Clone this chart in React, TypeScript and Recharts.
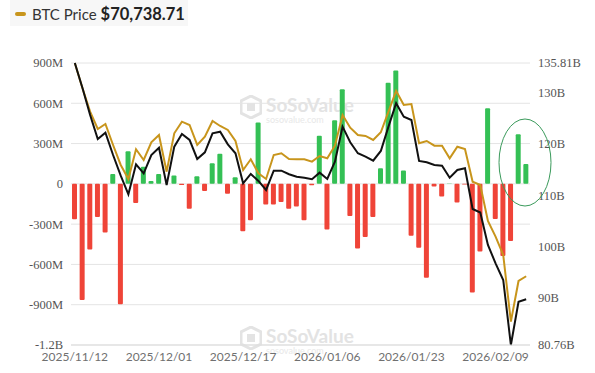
import React from "react";
import {
  ComposedChart,
  Bar,
  Line,
  XAxis,
  YAxis,
  CartesianGrid,
  Cell,
} from "recharts";

const dates = [
  "2025/11/12", "2025/11/13", "2025/11/14", "2025/11/17", "2025/11/18", "2025/11/19",
  "2025/11/20", "2025/11/21", "2025/11/24", "2025/11/25", "2025/11/26", "2025/12/01",
  "2025/12/02", "2025/12/03", "2025/12/04", "2025/12/05", "2025/12/08", "2025/12/09",
  "2025/12/10", "2025/12/11", "2025/12/12", "2025/12/15", "2025/12/17", "2025/12/18",
  "2025/12/19", "2025/12/22", "2025/12/23", "2025/12/24", "2025/12/26", "2025/12/29",
  "2025/12/30", "2025/12/31", "2026/01/02", "2026/01/06", "2026/01/07", "2026/01/08",
  "2026/01/09", "2026/01/12", "2026/01/13", "2026/01/14", "2026/01/15", "2026/01/16",
  "2026/01/20", "2026/01/21", "2026/01/23", "2026/01/26", "2026/01/27", "2026/01/28",
  "2026/01/29", "2026/01/30", "2026/02/02", "2026/02/03", "2026/02/04", "2026/02/05",
  "2026/02/06", "2026/02/09", "2026/02/10", "2026/02/11", "2026/02/12", "2026/02/13",
];

// daily net inflow, millions USD
const netInflowM = [
  -264, -864, -489, -247, -363, 74, -896, 242, -143, 128, 22, 74,
  0, 62, -8, -185, 57, -54, 153, 225, -74, 49, -353, -271,
  457, -153, -153, -136, -185, -168, -271, -10, 358, -340, 474, 704,
  -239, -481, -395, -247, 116, 753, 844, 99, -387, -475, -700, -20,
  -94, 3, -138, -5, -809, -503, 563, -262, -537, -425, 370, 147,
];

// total net assets, billions USD
const netAssetsB = [
  135.81, 130.94, 125.66, 120.98, 122.21, 117.85, 113.81, 110.18, 116.04, 114.28, 117.85, 119.28,
  112.0, 119.48, 121.95, 120.78, 117.07, 118.38, 122.09, 122.4, 119.94, 118.19, 112.33, 114.15,
  112.78, 111.02, 114.79, 114.79, 114.09, 113.62, 113.42, 113.11, 114.4, 113.17, 116.55, 123.38,
  120.33, 118.19, 117.52, 116.74, 118.64, 123.38, 127.95, 125.33, 124.69, 116.68, 116.43, 115.9,
  115.77, 113.42, 114.93, 115.26, 107.31, 106.63, 100.28, 96.71, 93.45, 80.76, 89.21, 89.68,
];

// BTC price, USD
const btcPrice = [
  102500, 98733, 95249, 92673, 93417, 90290, 87312, 85228, 89650, 88057, 90692, 91779,
  86315, 92032, 93760, 93268, 90290, 91526, 93864, 93119, 92524, 90886, 86568, 88161,
  86076, 85228, 88801, 89054, 88206, 88161, 88161, 87804, 88652, 88310, 90186, 94757,
  92866, 91779, 91630, 91035, 92181, 95249, 98331, 96246, 96395, 90543, 90886, 90186,
  90186, 88310, 90037, 89695, 84826, 84334, 78974, 76636, 73911, 63980, 70040, 70738.71,
];

const leftTicks = [-1200, -900, -600, -300, 0, 300, 600, 900];
const leftTickLabels = ["-1.2B", "-900M", "-600M", "-300M", "0", "300M", "600M", "900M"];
const rightTicks = [80.76, 90, 100, 110, 120, 130, 135.81];
const rightTickLabels = ["80.76B", "90B", "100B", "110B", "120B", "130B", "135.81B"];

const legendLabel = "BTC Price";
const legendValue = "$70,738.71";

const data = dates.map((d, i) => ({
  date: d,
  flow: netInflowM[i],
  assets: netAssetsB[i],
  price: btcPrice[i],
}));

const GOLD = "#C8951C";
const RED = "#EF4438";
const GREEN = "#34C055";

const serif = "'Liberation Serif', 'Times New Roman', serif";

function Watermark({ top }: { top: number }) {
  return (
    <div
      style={{
        position: "absolute",
        left: 240,
        top,
        width: 140,
        height: 30,
        color: "#e3e3e3",
        fontFamily: "Lato, 'Open Sans', sans-serif",
      }}
    >
      <svg width="22" height="24" style={{ position: "absolute", left: 0, top: 0 }}>
        <polygon points="11,1 21,6 21,18 11,23 1,18 1,6" fill="none" stroke="#e3e3e3" strokeWidth="3" />
        <rect x="7" y="8" width="8" height="8" fill="#e3e3e3" />
      </svg>
      <div style={{ position: "absolute", left: 26, top: -2, fontSize: 19, fontWeight: 700, letterSpacing: 0 }}>
        SoSoValue
      </div>
      <div style={{ position: "absolute", left: 26, top: 19, fontSize: 9, color: "#e8e8e8" }}>sosovalue.com</div>
    </div>
  );
}

export default function App() {
  return (
    <div
      style={{
        position: "absolute",
        left: 0,
        top: 0,
        width: 595,
        height: 373,
        background: "#ffffff",
        overflow: "hidden",
      }}
    >
      <Watermark top={95} />
      <Watermark top={326} />
      <div
        style={{
          position: "absolute",
          left: 10,
          top: 0,
          width: 178,
          height: 26,
          background: "#f7f7f7",
        }}
      />
      <div
        style={{
          position: "absolute",
          left: 15,
          top: 0,
          height: 27,
          display: "flex",
          alignItems: "center",
          fontFamily: "Lato, 'Open Sans', sans-serif",
          whiteSpace: "nowrap",
        }}
      >
        <span
          style={{
            display: "inline-block",
            width: 11,
            height: 4,
            borderRadius: 2,
            background: GOLD,
            marginRight: 6,
          }}
        />
        <span style={{ fontSize: 15, color: "#333" }}>{legendLabel}</span>
        <span style={{ fontSize: 16.5, fontWeight: 700, color: "#222", marginLeft: 4 }}>{legendValue}</span>
      </div>
      <div style={{ position: "absolute", left: 0, top: 0 }}>
        <ComposedChart
          width={595}
          height={373}
          data={data}
          margin={{ top: 63, right: 5, bottom: 8, left: 1 }}
          barCategoryGap={0}
        >
          <CartesianGrid vertical={false} yAxisId="left" stroke="#e4e4e4" />
          <XAxis
            dataKey="date"
            interval={10}
            tickLine={false}
            axisLine={{ stroke: "#dddddd" }}
            tick={{ fill: "#707070", fontSize: 12, fontFamily: "Lato, 'Open Sans', sans-serif" }}
            tickSize={0}
            tickMargin={7}
            height={20}
          />
          <YAxis
            yAxisId="left"
            orientation="left"
            width={70}
            domain={[-1200, 900]}
            ticks={leftTicks}
            tickFormatter={(v: number) => leftTickLabels[leftTicks.indexOf(v)] ?? String(v)}
            axisLine={false}
            tickLine={false}
            tickSize={0}
            tickMargin={8}
            tick={{ fill: "#555", fontSize: 12.5, fontFamily: serif }}
            interval={0}
          />
          <YAxis
            yAxisId="right"
            orientation="right"
            width={60}
            domain={[80.76, 135.81]}
            ticks={rightTicks}
            tickFormatter={(v: number) => rightTickLabels[rightTicks.indexOf(v)] ?? String(v)}
            axisLine={false}
            tickLine={false}
            tickSize={0}
            tickMargin={8}
            tick={{ fill: "#555", fontSize: 12.5, fontFamily: serif, textAnchor: "start" }}
            interval={0}
          />
          <YAxis yAxisId="price" hide domain={[60500, 102500]} />
          <Bar yAxisId="left" dataKey="flow" barSize={5} radius={1} isAnimationActive={false}>
            {data.map((d, i) => (
              <Cell key={i} fill={d.flow >= 0 ? GREEN : RED} />
            ))}
          </Bar>
          <Line
            yAxisId="price"
            type="linear"
            dataKey="price"
            stroke={GOLD}
            strokeWidth={2}
            dot={false}
            isAnimationActive={false}
          />
          <Line
            yAxisId="right"
            type="linear"
            dataKey="assets"
            stroke="#111111"
            strokeWidth={2}
            dot={false}
            isAnimationActive={false}
          />
        </ComposedChart>
      </div>
      <svg
        width={595}
        height={373}
        style={{ position: "absolute", left: 0, top: 0, pointerEvents: "none" }}
      >
        <ellipse cx={525} cy={162.5} rx={26} ry={43.5} fill="none" stroke="#3a9a5b" strokeWidth={1} />
      </svg>
    </div>
  );
}
